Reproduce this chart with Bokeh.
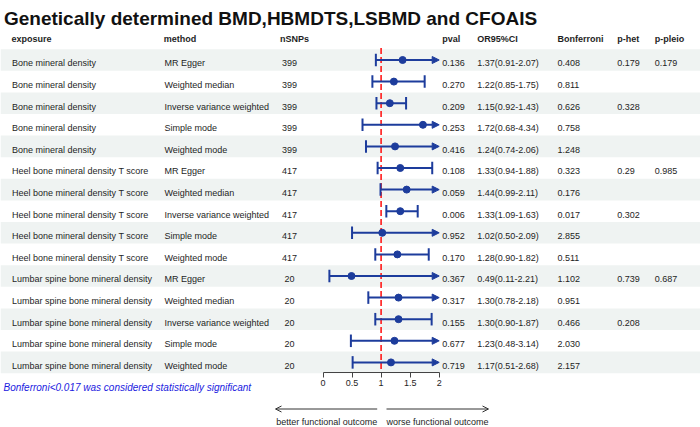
from bokeh.plotting import figure
from bokeh.models import (Range1d, ColumnDataSource, LinearAxis, FixedTicker,
                          Arrow, NormalHead, OpenHead)
from bokeh.core.properties import value
from bokeh.embed import file_html
from bokeh.resources import INLINE

# ---------------- data ----------------
title = "Genetically determined BMD,HBMDTS,LSBMD and CFOAIS"
headers = ["exposure", "method", "nSNPs", "pval", "OR95%CI", "Bonferroni", "p-het", "p-pleio"]
exposure = ["Bone mineral density"] * 5 + ["Heel bone mineral density T score"] * 5 + \
           ["Lumbar spine bone mineral density"] * 5
method = ["MR Egger", "Weighted median", "Inverse variance weighted", "Simple mode", "Weighted mode"] * 3
nsnps = ["399"] * 5 + ["417"] * 5 + ["20"] * 5
pval = ["0.136", "0.270", "0.209", "0.253", "0.416",
        "0.108", "0.059", "0.006", "0.952", "0.170",
        "0.367", "0.317", "0.155", "0.677", "0.719"]
or_est = [1.37, 1.22, 1.15, 1.72, 1.24, 1.33, 1.44, 1.33, 1.02, 1.28, 0.49, 1.30, 1.30, 1.23, 1.17]
or_lo = [0.91, 0.85, 0.92, 0.68, 0.74, 0.94, 0.99, 1.09, 0.50, 0.90, 0.11, 0.78, 0.90, 0.48, 0.51]
or_hi = [2.07, 1.75, 1.43, 4.34, 2.06, 1.88, 2.11, 1.63, 2.09, 1.82, 2.21, 2.18, 1.87, 3.14, 2.68]
bonferroni = ["0.408", "0.811", "0.626", "0.758", "1.248",
              "0.323", "0.176", "0.017", "2.855", "0.511",
              "1.102", "0.951", "0.466", "2.030", "2.157"]
p_het = ["0.179", "", "0.328", "", "", "0.29", "", "0.302", "", "", "0.739", "", "0.208", "", ""]
p_pleio = ["0.179", "", "", "", "", "0.985", "", "", "", "", "0.687", "", "", "", ""]
ticks = [0, 0.5, 1, 1.5, 2]
tick_labels = ["0", "0.5", "1", "1.5", "2"]
footnote = "Bonferroni<0.017 was considered statistically significant"
left_note = "better functional outcome"
right_note = "worse functional outcome"
ref_line = 1
xlim = (0, 2)

# ---------------- layout helpers ----------------
W, H = 700, 427
X0, XS = 322.5, 58.1        # pixel of OR=0, pixels per OR unit
ROW0, ROWH = 59.5, 21.6     # pixel of first row centre, row height


def rx(px):
    return (px - X0) / XS


def ry(py):
    return (py - ROW0) / ROWH


FONT = value("Liberation Sans")
TXT = "#1e1e1e"
CI_COL = "#1d3c9c"
BAND = "#eff3f2"

n = len(method)
rows = list(range(n))

p = figure(width=W, height=H, x_range=Range1d(rx(0), rx(W)), y_range=Range1d(ry(H), ry(0)),
           x_axis_type=None, y_axis_type=None, toolbar_location=None, output_backend="svg",
           min_border=0, outline_line_color=None, background_fill_color="white")
p.grid.visible = False

# shaded bands
band_rows = [r for r in rows if r % 2 == 0]
p.hbar(y=band_rows, height=1, left=rx(0), right=rx(W), color=BAND, line_color=None)

# title
p.text(x=[rx(3.5)], y=[ry(17.5)], text=[title], text_font=FONT, text_font_style="bold",
       text_font_size="19px", text_color="#111111", text_baseline="alphabetic")

# headers
hx = [rx(11), rx(163.3), rx(279.5), rx(441.7), rx(476.7), rx(557), rx(616.7), rx(654.3)]
p.text(x=hx, y=[ry(38.8)] * len(headers), text=headers, text_font=FONT, text_font_style="bold",
       text_font_size="9px", text_color=TXT, text_baseline="alphabetic")

# body text
base = 3.3 / ROWH
yb = [r + base for r in rows]
ci_text = ["%.2f(%.2f-%.2f)" % (e, l, h) for e, l, h in zip(or_est, or_lo, or_hi)]
cols = [(exposure, rx(11.5), "left"), (method, rx(164), "left"), (nsnps, rx(289), "center"),
        (pval, rx(441.7), "left"), (ci_text, rx(476.7), "left"), (bonferroni, rx(557), "left"),
        (p_het, rx(616.7), "left"), (p_pleio, rx(654.3), "left")]
for vals, x, al in cols:
    p.text(x=[x] * n, y=yb, text=vals, text_font=FONT, text_font_size="9px",
           text_color=TXT, text_baseline="alphabetic", text_align=al)

# reference line
p.segment(x0=[ref_line], y0=[ry(47.5)], x1=[ref_line], y1=[ry(371)], line_color="#ff1a1a",
          line_width=1.6, line_dash="6 3")

# CIs
lo_c = [max(l, xlim[0]) for l in or_lo]
hi_c = [min(h, xlim[1]) for h in or_hi]
closed = [r for r in rows if or_hi[r] <= xlim[1]]
opened = [r for r in rows if or_hi[r] > xlim[1]]
cap = 0.29
p.segment(x0=[lo_c[r] for r in closed], y0=closed, x1=[hi_c[r] for r in closed], y1=closed,
          line_color=CI_COL, line_width=2)
p.segment(x0=lo_c, y0=[r - cap for r in rows], x1=lo_c, y1=[r + cap for r in rows],
          line_color=CI_COL, line_width=2)
p.segment(x0=[hi_c[r] for r in closed], y0=[r - cap for r in closed],
          x1=[hi_c[r] for r in closed], y1=[r + cap for r in closed],
          line_color=CI_COL, line_width=2)
arr_src = ColumnDataSource(dict(x0=[lo_c[r] for r in opened], x1=[hi_c[r] for r in opened],
                                y=opened))
p.add_layout(Arrow(end=NormalHead(size=7, fill_color=CI_COL, line_color=CI_COL, line_width=1),
                   x_start="x0", y_start="y", x_end="x1", y_end="y", source=arr_src,
                   line_color=CI_COL, line_width=2))
p.scatter(x=or_est, y=rows, size=7, color=CI_COL, marker="circle")

# axis
ax = LinearAxis(fixed_location=ry(371.5), bounds=xlim, ticker=FixedTicker(ticks=ticks),
                major_label_overrides={t: l for t, l in zip(ticks, tick_labels)},
                axis_line_color="#444444", major_tick_line_color="#444444",
                major_tick_out=5, major_tick_in=0, minor_tick_line_color=None,
                major_label_text_font="Liberation Sans", major_label_text_font_size="9px",
                major_label_text_color=TXT, major_label_standoff=3)
p.add_layout(ax, "below")

# footnote
p.text(x=[rx(3)], y=[ry(387)], text=[footnote], text_font=FONT, text_font_style="italic",
       text_font_size="10px", text_color="#1a1ae0", text_baseline="alphabetic")

# direction arrows
p.add_layout(Arrow(end=OpenHead(size=6, line_width=1, line_color="#333333"),
                   x_start=rx(376.7), y_start=ry(408.5), x_end=rx(275), y_end=ry(408.5),
                   line_color="#333333", line_width=1))
p.add_layout(Arrow(end=OpenHead(size=6, line_width=1, line_color="#333333"),
                   x_start=rx(386), y_start=ry(408.5), x_end=rx(488), y_end=ry(408.5),
                   line_color="#333333", line_width=1))
p.text(x=[rx(376.7)], y=[ry(421.5)], text=[left_note], text_font=FONT, text_font_size="9px",
       text_color=TXT, text_baseline="alphabetic", text_align="right")
p.text(x=[rx(386)], y=[ry(421.5)], text=[right_note], text_font=FONT, text_font_size="9px",
       text_color=TXT, text_baseline="alphabetic", text_align="left")

open("out.html", "w").write(file_html(p, INLINE))
